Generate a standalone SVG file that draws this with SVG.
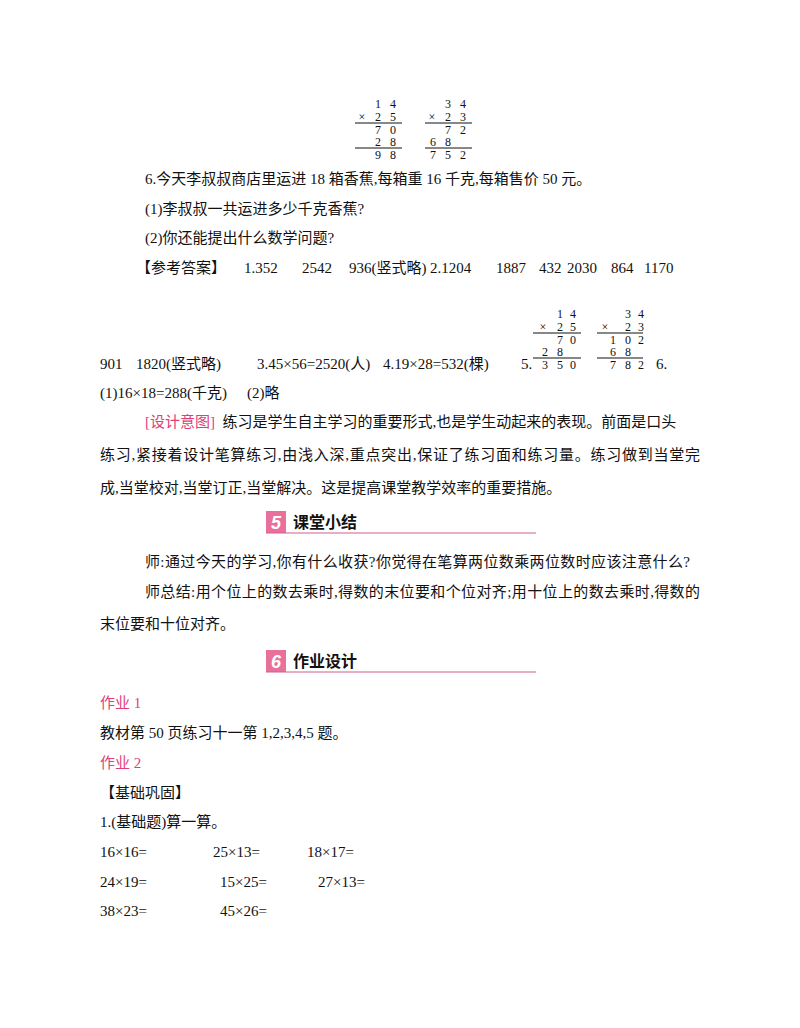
<svg xmlns="http://www.w3.org/2000/svg" width="800" height="1028" viewBox="0 0 800 1028">
<style>
text{font-family:"Liberation Serif","Noto Sans CJK SC",serif;font-size:15px;fill:#111;white-space:pre}
.d{font-size:12px;text-anchor:middle}
.p{fill:#e0407a}
.h{font-family:"Noto Sans CJK SC",sans-serif;font-weight:bold;font-size:16px}
.n{font-family:"Liberation Sans",sans-serif;font-style:italic;font-weight:bold;font-size:18px;fill:#fff;text-anchor:middle}
line{stroke:#111;stroke-width:1}
.pl{stroke:#d06090;stroke-width:1.2}
</style>
<rect width="800" height="1028" fill="#fff"/>
<g id="calc1">
<text class="d" x="378" y="108">1</text><text class="d" x="393" y="108">4</text>
<text class="d" x="362" y="121">×</text><text class="d" x="378" y="121">2</text><text class="d" x="393" y="121">5</text>
<line x1="355" y1="123" x2="402" y2="123"/>
<text class="d" x="378" y="134">7</text><text class="d" x="393" y="134">0</text>
<text class="d" x="378" y="146">2</text><text class="d" x="393" y="146">8</text>
<line x1="355" y1="148" x2="402" y2="148"/>
<text class="d" x="378" y="159">9</text><text class="d" x="393" y="159">8</text>
</g>
<g id="calc2">
<text class="d" x="448" y="108">3</text><text class="d" x="463" y="108">4</text>
<text class="d" x="432" y="121">×</text><text class="d" x="448" y="121">2</text><text class="d" x="463" y="121">3</text>
<line x1="425" y1="123" x2="472" y2="123"/>
<text class="d" x="448" y="134">7</text><text class="d" x="463" y="134">2</text>
<text class="d" x="433" y="146">6</text><text class="d" x="448" y="146">8</text>
<line x1="425" y1="148" x2="472" y2="148"/>
<text class="d" x="433" y="159">7</text><text class="d" x="448" y="159">5</text><text class="d" x="463" y="159">2</text>
</g>
<text x="145" y="184">6.今天李叔叔商店里运进 18 箱香蕉,每箱重 16 千克,每箱售价 50 元。</text>
<text x="145" y="214">(1)李叔叔一共运进多少千克香蕉?</text>
<text x="145" y="243">(2)你还能提出什么数学问题?</text>
<text x="136" y="273">【参考答案】</text>
<text x="244" y="273">1.352</text><text x="302" y="273">2542</text><text x="349" y="273">936(竖式略)</text>
<text x="430" y="273">2.1204</text><text x="496" y="273">1887</text><text x="539" y="273">432</text>
<text x="567" y="273">2030</text><text x="611" y="273">864</text><text x="644" y="273">1170</text>
<g id="calc3">
<text class="d" x="560" y="318">1</text><text class="d" x="573" y="318">4</text>
<text class="d" x="543" y="331">×</text><text class="d" x="560" y="331">2</text><text class="d" x="573" y="331">5</text>
<line x1="533" y1="333" x2="581" y2="333"/>
<text class="d" x="560" y="344">7</text><text class="d" x="573" y="344">0</text>
<text class="d" x="545" y="356">2</text><text class="d" x="560" y="356">8</text>
<line x1="533" y1="358" x2="581" y2="358"/>
<text class="d" x="545" y="369">3</text><text class="d" x="560" y="369">5</text><text class="d" x="573" y="369">0</text>
</g>
<g id="calc4">
<text class="d" x="628" y="318">3</text><text class="d" x="641" y="318">4</text>
<text class="d" x="605" y="331">×</text><text class="d" x="628" y="331">2</text><text class="d" x="641" y="331">3</text>
<line x1="597" y1="333" x2="643" y2="333"/>
<text class="d" x="613" y="344">1</text><text class="d" x="628" y="344">0</text><text class="d" x="641" y="344">2</text>
<text class="d" x="613" y="356">6</text><text class="d" x="628" y="356">8</text>
<line x1="597" y1="358" x2="643" y2="358"/>
<text class="d" x="613" y="369">7</text><text class="d" x="628" y="369">8</text><text class="d" x="641" y="369">2</text>
</g>
<text x="100" y="369">901</text><text x="136" y="369">1820(竖式略)</text><text x="257" y="369">3.45×56=2520(人)</text>
<text x="383" y="369">4.19×28=532(棵)</text><text x="521" y="369">5.</text>
<text x="656" y="369">6.</text>
<text x="100" y="398">(1)16×18=288(千克)</text><text x="247" y="398">(2)略</text>
<text x="145" y="427"><tspan class="p">[设计意图]</tspan>  练习是学生自主学习的重要形式,也是学生动起来的表现。前面是口头</text>
<text x="100" y="460" textLength="600" lengthAdjust="spacing">练习,紧接着设计笔算练习,由浅入深,重点突出,保证了练习面和练习量。练习做到当堂完</text>
<text x="100" y="493">成,当堂校对,当堂订正,当堂解决。这是提高课堂教学效率的重要措施。</text>
<g id="h5">
<rect x="266" y="511" width="20" height="22" fill="#e8709a"/>
<text class="n" x="276" y="529">5</text>
<text class="h" x="293" y="528">课堂小结</text>
<line class="pl" x1="266" y1="533" x2="536" y2="533"/>
</g>
<text x="145" y="567" textLength="545" lengthAdjust="spacing">师:通过今天的学习,你有什么收获?你觉得在笔算两位数乘两位数时应该注意什么?</text>
<text x="145" y="597" textLength="555" lengthAdjust="spacing">师总结:用个位上的数去乘时,得数的末位要和个位对齐;用十位上的数去乘时,得数的</text>
<text x="100" y="629">末位要和十位对齐。</text>
<g id="h6">
<rect x="266" y="650" width="20" height="22" fill="#e8709a"/>
<text class="n" x="276" y="668">6</text>
<text class="h" x="293" y="667">作业设计</text>
<line class="pl" x1="266" y1="672" x2="536" y2="672"/>
</g>
<text class="p" x="100" y="708">作业 1</text>
<text x="100" y="738">教材第 50 页练习十一第 1,2,3,4,5 题。</text>
<text class="p" x="100" y="768">作业 2</text>
<text x="100" y="798">【基础巩固】</text>
<text x="100" y="827">1.(基础题)算一算。</text>
<text x="100" y="857">16×16=</text><text x="213" y="857">25×13=</text><text x="307" y="857">18×17=</text>
<text x="100" y="887">24×19=</text><text x="220" y="887">15×25=</text><text x="318" y="887">27×13=</text>
<text x="100" y="916">38×23=</text><text x="220" y="916">45×26=</text>
</svg>
